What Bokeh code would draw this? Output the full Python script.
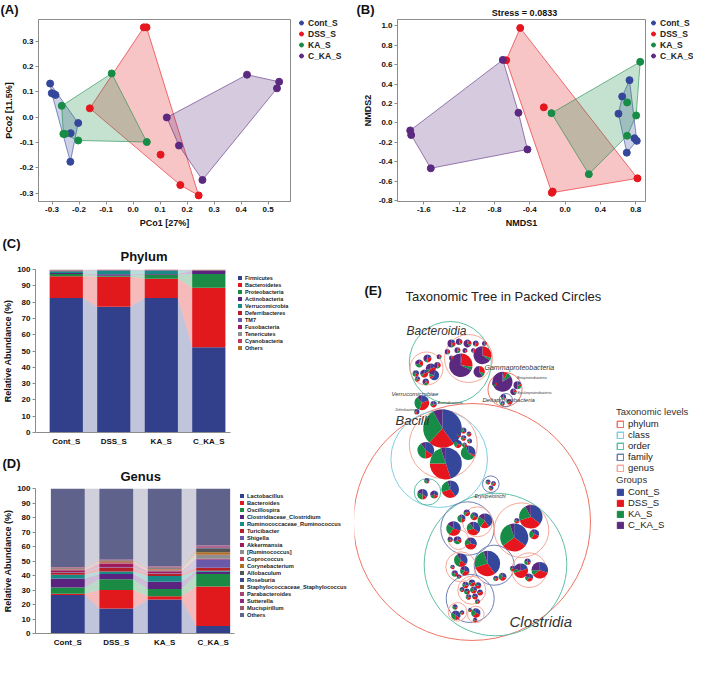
import numpy as np
from bokeh.plotting import figure
from bokeh.models import (Range1d, FixedTicker, NumeralTickFormatter, Label, Legend,
                          LegendItem, ColumnDataSource)
from bokeh.layouts import row, column
from bokeh.embed import file_html
from bokeh.resources import INLINE

FONT = "Liberation Sans"

groups = ["Cont_S", "DSS_S", "KA_S", "C_KA_S"]
group_colors = ["#34479B", "#E5161D", "#178C47", "#5B2A80"]

# ---------------- Panel A : PCoA ----------------
a_cont_x = [-0.307, -0.301, -0.292, -0.287, -0.203, -0.231, -0.232]
a_cont_y = [0.133, 0.095, 0.091, 0.088, -0.023, -0.063, -0.176]
a_dss_x = [0.040, 0.050, -0.160, 0.102, 0.175, 0.243]
a_dss_y = [0.355, 0.355, 0.035, -0.148, -0.268, -0.309]
a_ka_x = [-0.264, -0.258, -0.252, -0.203, -0.079, 0.051]
a_ka_y = [0.045, -0.066, -0.066, -0.092, 0.173, -0.098]
a_cka_x = [0.125, 0.170, 0.257, 0.422, 0.541, 0.533]
a_cka_y = [-0.001, -0.112, -0.248, 0.168, 0.140, 0.114]
a_xticks = [-0.3, -0.2, -0.1, 0.0, 0.1, 0.2, 0.3, 0.4, 0.5]
a_yticks = [-0.3, -0.2, -0.1, 0.0, 0.1, 0.2, 0.3]

# ---------------- Panel B : NMDS ----------------
b_cont_x = [0.730, 0.647, 0.605, 0.786, 0.812, 0.699]
b_cont_y = [0.440, 0.272, 0.095, -0.157, -0.184, -0.305]
b_dss_x = [-0.508, -0.667, -0.241, -0.150, -0.140, 0.820]
b_dss_y = [0.976, 0.644, 0.161, -0.717, -0.705, -0.569]
b_ka_x = [0.851, -0.154, 0.269, 0.805, 0.703, 0.703]
b_ka_y = [0.628, 0.101, -0.526, 0.077, 0.211, -0.131]
b_cka_x = [-0.705, -0.528, -0.426, -1.521, -1.754, -1.743]
b_cka_y = [0.648, 0.105, -0.272, -0.466, -0.077, -0.124]
b_xticks = [-1.6, -1.2, -0.8, -0.4, 0.0, 0.4, 0.8]
b_yticks = [-0.8, -0.6, -0.4, -0.2, 0.0, 0.2, 0.4, 0.6, 0.8, 1.0]

# ---------------- Panel C : Phylum ----------------
phylum_names = ["Firmicutes", "Bacteroidetes", "Proteobacteria", "Actinobacteria",
                "Verrucomicrobia", "Deferribacteres", "TM7", "Fusobacteria",
                "Tenericutes", "Cyanobacteria", "Others"]
phylum_colors = ["#323F8A", "#E2191C", "#1A8A44", "#5A237F", "#1A8A87", "#B51F28",
                 "#6A58A8", "#9E1A5A", "#8F8F8F", "#C23B55", "#B07020"]
phylum_firmicutes = [82.5, 77.1, 82.5, 52.3]
phylum_bacteroidetes = [13.3, 18.5, 11.8, 36.5]
phylum_proteobacteria = [1.5, 0.5, 2.5, 8.4]
phylum_actinobacteria = [0.6, 1.0, 0.5, 2.1]
phylum_verrucomicrobia = [1.0, 2.3, 2.1, 0.1]
phylum_deferribacteres = [0.3, 0.2, 0.2, 0.1]
phylum_tm7 = [0.2, 0.1, 0.1, 0.1]
phylum_fusobacteria = [0.2, 0.1, 0.1, 0.1]
phylum_tenericutes = [0.2, 0.1, 0.1, 0.1]
phylum_cyanobacteria = [0.1, 0.05, 0.05, 0.05]
phylum_others = [0.1, 0.05, 0.05, 0.15]

# ---------------- Panel D : Genus ----------------
genus_names = ["Lactobacillus", "Bacteroides", "Oscillospira", "Clostridiaceae_Clostridium",
               "Ruminococcaceae_Ruminococcus", "Turicibacter", "Shigella", "Akkermansia",
               "[Ruminococcus]", "Coprococcus", "Corynebacterium", "Allobaculum", "Roseburia",
               "Staphylococcaceae_Staphylococcus", "Parabacteroides", "Sutterella",
               "Mucispirillum", "Others"]
genus_colors = ["#323F8A", "#E2191C", "#1A8A44", "#5A237F", "#1A8A87", "#B51F28", "#6A58A8",
                "#9E1A5A", "#8F8F8F", "#C23B55", "#B07020", "#555555", "#3C4A8E", "#8C5A3A",
                "#A2456E", "#8E2B7E", "#9C5870", "#5F628B"]
genus_lactobacillus = [26.5, 17.3, 23.5, 5.2]
genus_bacteroides = [1.0, 12.7, 2.2, 27.3]
genus_oscillospira = [4.3, 7.5, 5.0, 8.6]
genus_clostridium = [6.2, 3.5, 5.0, 1.5]
genus_ruminococcus = [2.6, 1.8, 4.0, 0.6]
genus_turicibacter = [1.5, 2.5, 1.5, 2.1]
genus_shigella = [0.3, 0.4, 0.3, 5.8]
genus_akkermansia = [1.2, 2.5, 1.5, 0.4]
genus_ruminococcus_b = [0.5, 0.3, 0.6, 2.6]
genus_coprococcus = [0.4, 0.6, 0.5, 0.3]
genus_corynebacterium = [0.3, 0.8, 0.6, 1.7]
genus_allobaculum = [0.2, 0.3, 0.3, 2.6]
genus_roseburia = [0.2, 0.2, 0.3, 0.3]
genus_staphylococcus = [0.1, 0.1, 0.2, 0.2]
genus_parabacteroides = [0.2, 0.2, 0.3, 0.8]
genus_sutterella = [0.2, 0.3, 0.3, 0.5]
genus_mucispirillum = [0.1, 0.1, 0.2, 0.3]
genus_others = [54.2, 48.9, 53.7, 39.2]

# ---------------- Panel E : packed circles ----------------
level_names = ["phylum", "class", "order", "family", "genus"]
level_colors = ["#EF7565", "#7ED0E2", "#5DBFA5", "#6F7FB5", "#F4A898"]
# outline circles: (x, y, r, level index)
taxon_circles = [
    (474.5, 528.5, 118.5, 0), (441.7, 465.7, 48.3, 1), (445.8, 451.0, 34.0, 4),
    (430.0, 498.3, 13.3, 2), (498.0, 571.0, 71.3, 2), (470.0, 535.0, 26.7, 3),
    (480.0, 528.3, 15.0, 4), (461.0, 546.0, 10.0, 4), (524.0, 536.7, 27.3, 4),
    (496.7, 571.7, 20.0, 3), (463.3, 573.3, 15.0, 4), (531.7, 576.7, 17.3, 4),
    (472.7, 605.0, 24.0, 3), (474.3, 596.7, 14.0, 4), (460.0, 618.3, 9.3, 4),
    (478.3, 621.0, 8.3, 4), (493.3, 490.7, 8.3, 3), (452.8, 369.0, 41.0, 2),
    (429.0, 375.0, 16.5, 4), (471.0, 365.0, 24.0, 4), (507.5, 396.0, 17.0, 0),
    (508.3, 406.7, 6.7, 3),
]
# pies: (x, y, r, Cont_S, DSS_S, KA_S, C_KA_S)
bacilli_pies = [
    (445.0, 435.0, 19.3, 0.40, 0.22, 0.30, 0.08), (448.3, 470.0, 16.0, 0.45, 0.30, 0.20, 0.05),
    (428.3, 456.7, 8.3, 0.35, 0.15, 0.40, 0.10), (470.7, 459.3, 7.3, 0.30, 0.05, 0.60, 0.05),
    (460.5, 450.5, 4.0, 0.30, 0.30, 0.30, 0.10), (466.0, 437.0, 3.0, 0.40, 0.20, 0.30, 0.10),
    (471.5, 440.5, 2.5, 0.20, 0.40, 0.20, 0.20), (466.0, 444.5, 2.8, 0.30, 0.30, 0.20, 0.20),
    (472.0, 447.5, 2.5, 0.50, 0.20, 0.20, 0.10), (467.0, 451.5, 2.5, 0.20, 0.30, 0.40, 0.10),
    (461.5, 441.5, 2.2, 0.30, 0.30, 0.30, 0.10), (452.7, 495.7, 8.7, 0.40, 0.30, 0.25, 0.05),
    (429.3, 487.3, 2.7, 0.30, 0.20, 0.30, 0.20), (425.0, 500.7, 5.3, 0.35, 0.15, 0.30, 0.20),
    (436.7, 501.0, 4.0, 0.30, 0.20, 0.20, 0.30), (490.5, 488.5, 2.5, 0.30, 0.30, 0.20, 0.20),
    (496.0, 490.0, 2.5, 0.20, 0.40, 0.20, 0.20), (493.5, 494.5, 2.5, 0.40, 0.20, 0.20, 0.20),
]
clostridia_pies = [
    (456.0, 535.0, 7.3, 0.30, 0.30, 0.25, 0.15), (476.0, 535.0, 6.7, 0.35, 0.35, 0.20, 0.10),
    (487.3, 527.3, 7.3, 0.40, 0.20, 0.25, 0.15), (464.0, 525.0, 4.0, 0.30, 0.20, 0.40, 0.10),
    (469.3, 519.3, 3.3, 0.20, 0.40, 0.20, 0.20), (476.7, 522.7, 4.0, 0.30, 0.30, 0.30, 0.10),
    (473.3, 550.0, 6.0, 0.30, 0.40, 0.20, 0.10), (460.0, 546.7, 4.0, 0.20, 0.20, 0.30, 0.30),
    (452.7, 546.0, 2.7, 0.30, 0.20, 0.20, 0.30), (516.7, 544.0, 14.0, 0.35, 0.30, 0.30, 0.05),
    (533.3, 523.3, 11.7, 0.35, 0.35, 0.22, 0.08), (536.7, 540.7, 5.0, 0.30, 0.30, 0.30, 0.10),
    (519.3, 527.3, 2.7, 0.30, 0.30, 0.20, 0.20), (490.0, 570.0, 12.7, 0.40, 0.30, 0.25, 0.05),
    (505.0, 583.3, 4.0, 0.30, 0.30, 0.30, 0.10), (498.3, 585.0, 2.7, 0.20, 0.30, 0.30, 0.20),
    (463.3, 566.7, 6.7, 0.35, 0.20, 0.35, 0.10), (467.3, 577.3, 4.7, 0.30, 0.30, 0.20, 0.20),
    (457.3, 580.0, 3.3, 0.20, 0.30, 0.30, 0.20), (455.0, 573.5, 2.3, 0.30, 0.30, 0.20, 0.20),
    (461.5, 583.0, 2.3, 0.20, 0.20, 0.30, 0.30), (542.3, 576.7, 8.3, 0.30, 0.35, 0.10, 0.25),
    (523.3, 577.3, 7.3, 0.20, 0.50, 0.10, 0.20), (531.7, 584.0, 4.0, 0.30, 0.30, 0.20, 0.20),
    (530.0, 568.3, 3.3, 0.30, 0.20, 0.30, 0.20), (515.0, 575.0, 2.7, 0.30, 0.30, 0.20, 0.20),
    (468.0, 591.5, 3.3, 0.30, 0.30, 0.20, 0.20), (474.5, 589.5, 3.5, 0.20, 0.40, 0.20, 0.20),
    (480.5, 592.0, 3.3, 0.30, 0.40, 0.20, 0.10), (469.5, 598.0, 3.0, 0.20, 0.30, 0.30, 0.20),
    (476.0, 596.5, 3.5, 0.30, 0.30, 0.30, 0.10), (482.5, 599.0, 3.0, 0.20, 0.50, 0.10, 0.20),
    (471.0, 603.5, 2.8, 0.30, 0.30, 0.20, 0.20), (477.5, 603.0, 3.0, 0.30, 0.40, 0.10, 0.20),
    (464.5, 596.0, 2.5, 0.40, 0.20, 0.20, 0.20), (480.0, 608.0, 2.5, 0.20, 0.30, 0.30, 0.20),
    (458.3, 621.7, 4.7, 0.35, 0.15, 0.35, 0.15), (457.5, 613.5, 2.7, 0.30, 0.20, 0.30, 0.20),
    (464.5, 619.0, 2.3, 0.30, 0.30, 0.20, 0.20), (478.3, 619.5, 4.7, 0.30, 0.30, 0.30, 0.10),
    (477.5, 626.5, 2.3, 0.30, 0.30, 0.20, 0.20), (472.5, 616.5, 2.0, 0.20, 0.30, 0.30, 0.20),
]
bacteroidia_pies = [
    (463.3, 371.7, 11.7, 0.02, 0.25, 0.05, 0.68), (485.0, 361.7, 9.0, 0.00, 0.30, 0.05, 0.65),
    (481.7, 378.3, 5.7, 0.00, 0.30, 0.10, 0.60), (454.0, 350.0, 4.0, 0.20, 0.20, 0.10, 0.50),
    (461.7, 348.3, 3.3, 0.10, 0.30, 0.10, 0.50), (470.0, 350.0, 4.0, 0.10, 0.20, 0.10, 0.60),
    (478.3, 350.0, 3.0, 0.20, 0.30, 0.10, 0.40), (450.0, 358.3, 2.7, 0.10, 0.30, 0.10, 0.50),
    (460.0, 356.7, 3.0, 0.10, 0.20, 0.20, 0.50), (467.5, 357.0, 2.5, 0.20, 0.20, 0.10, 0.50),
    (454.0, 364.5, 2.5, 0.10, 0.30, 0.10, 0.50), (476.0, 357.0, 2.5, 0.10, 0.40, 0.10, 0.40),
    (487.0, 350.0, 2.5, 0.10, 0.30, 0.10, 0.50), (430.0, 365.0, 4.0, 0.20, 0.30, 0.10, 0.40),
    (421.7, 370.0, 4.0, 0.10, 0.30, 0.30, 0.30), (433.3, 375.0, 5.0, 0.20, 0.40, 0.10, 0.30),
    (440.0, 371.7, 3.3, 0.10, 0.30, 0.10, 0.50), (418.3, 380.0, 3.3, 0.30, 0.20, 0.30, 0.20),
    (426.7, 380.0, 4.0, 0.20, 0.40, 0.10, 0.30), (436.7, 381.7, 5.0, 0.60, 0.10, 0.10, 0.20),
    (428.3, 388.3, 3.3, 0.20, 0.20, 0.20, 0.40), (420.0, 385.5, 2.7, 0.30, 0.30, 0.20, 0.20),
    (441.7, 363.3, 2.5, 0.10, 0.20, 0.20, 0.50), (446.7, 382.7, 2.7, 0.00, 0.00, 1.00, 0.00),
]
proteo_pies = [
    (505.0, 388.3, 10.0, 0.03, 0.05, 0.08, 0.84), (520.0, 391.7, 4.0, 0.20, 0.10, 0.20, 0.50),
    (516.0, 398.3, 3.3, 0.10, 0.20, 0.10, 0.60), (497.3, 390.0, 2.7, 0.20, 0.20, 0.20, 0.40),
    (506.0, 403.3, 2.7, 0.40, 0.10, 0.20, 0.30), (511.7, 408.3, 2.7, 0.20, 0.40, 0.20, 0.20),
    (505.0, 410.0, 2.3, 0.30, 0.20, 0.30, 0.20),
]
minor_pies = [
    (424.3, 409.3, 7.3, 0.20, 0.35, 0.35, 0.10), (436.0, 410.7, 3.3, 0.30, 0.30, 0.20, 0.20),
    (419.3, 418.3, 2.7, 0.50, 0.20, 0.10, 0.20),
]
# taxon labels: (text, x, y, font px)
taxon_labels = [
    ("Bacteroidia", 409, 337, 12), ("Gammaproteobacteria", 487, 373.5, 7),
    ("Betaproteobacteria", 519.5, 384.3, 3.5), ("Epsilonproteobacteria", 520, 399, 3.5),
    ("Deltaproteobacteria", 485, 406, 6), ("Verrucomicrobiae", 394, 400, 6),
    ("Actinobacteria", 440, 409.3, 4), ("Deferribacteres", 398, 415.7, 3),
    ("Bacilli", 398, 427, 13), ("Erysipelotrichi", 477, 502.3, 5),
    ("Clostridia", 512, 628.3, 15),
]


# ---------------- helpers ----------------
def make_fig(w, h, xr, yr, bl, br, bt, bb, axes=True):
    kw = dict(width=w, height=h, x_range=xr, y_range=yr, output_backend="svg",
              toolbar_location=None, min_border_left=bl, min_border_right=br,
              min_border_top=bt, min_border_bottom=bb)
    if not axes:
        kw.update(x_axis_location=None, y_axis_location=None)
    p = figure(**kw)
    try:
        p.frame_align = False   # keep each figure's own borders inside layouts
    except Exception:
        pass
    p.xgrid.visible = False
    p.ygrid.visible = False
    p.outline_line_color = None
    p.background_fill_color = "white"
    p.border_fill_color = "white"
    return p


def blank(w, h):
    # pixel-sized data ranges so that labels can be placed in data units
    return make_fig(w, h, Range1d(0, w), Range1d(0, h), 0, 0, 0, 0, axes=False)


def dlabel(p, x, y, text, size, style="bold", align="left", color="#111111"):
    p.add_layout(Label(x=x, y=y, text=text, text_font=FONT, text_font_size=size,
                       text_font_style=style, text_align=align, text_baseline="middle",
                       text_color=color))


def style_axis(ax, tick_out=3):
    ax.axis_line_color = "#8C8C8C"
    ax.major_tick_line_color = "#8C8C8C"
    ax.minor_tick_line_color = None
    ax.major_tick_out = tick_out
    ax.major_tick_in = 0
    ax.major_label_text_font = FONT
    ax.major_label_text_font_style = "bold"
    ax.major_label_text_font_size = "8px"
    ax.major_label_text_color = "#111111"
    ax.major_label_standoff = 2
    ax.axis_label_text_font = FONT
    ax.axis_label_text_font_style = "bold"
    ax.axis_label_text_font_size = "9px"
    ax.axis_label_text_color = "#111111"
    ax.axis_label_standoff = 3


def hull(xs, ys):
    pts = sorted(set(zip(xs, ys)))
    if len(pts) < 3:
        return pts

    def cross(o, a, b):
        return (a[0] - o[0]) * (b[1] - o[1]) - (a[1] - o[1]) * (b[0] - o[0])
    lower, upper = [], []
    for q in pts:
        while len(lower) >= 2 and cross(lower[-2], lower[-1], q) <= 0:
            lower.pop()
        lower.append(q)
    for q in reversed(pts):
        while len(upper) >= 2 and cross(upper[-2], upper[-1], q) <= 0:
            upper.pop()
        upper.append(q)
    return lower[:-1] + upper[:-1]


def ordination(p, xs_list, ys_list):
    for xs, ys, col in zip(xs_list, ys_list, group_colors):
        h = hull(xs, ys)
        p.patch([q[0] for q in h], [q[1] for q in h], fill_color=col, fill_alpha=0.25,
                line_color=col, line_alpha=0.75, line_width=0.8)
    for xs, ys, col in zip(xs_list, ys_list, group_colors):
        p.scatter(xs, ys, size=7, fill_color=col, line_color=col)


def dot_legend(w, h, lx, ly):
    q = blank(w, h)
    items = []
    for g, col in zip(groups, group_colors):
        r = q.scatter([-10], [-10], size=7, fill_color=col, line_color=col)
        items.append(LegendItem(label=g, renderers=[r]))
    q.add_layout(Legend(items=items, location=(lx, ly), glyph_width=10, glyph_height=11,
                        label_height=11, spacing=0, padding=0, margin=0, label_standoff=2,
                        label_text_font=FONT, label_text_font_style="bold",
                        label_text_font_size="8.5px", label_text_color="#222222",
                        border_line_color=None, background_fill_alpha=0))
    return q


def box_legend(w, h, names, colors, lx, ly, fs):
    q = blank(w, h)
    items = []
    for nm, col in zip(names, colors):
        r = q.quad(left=[-10], right=[-9], bottom=[-10], top=[-9], fill_color=col,
                   line_color=None)
        items.append(LegendItem(label=nm, renderers=[r]))
    q.add_layout(Legend(items=items, location=(lx, ly), glyph_width=5, glyph_height=5,
                        label_height=7, spacing=0, padding=0, margin=0, label_standoff=3,
                        label_text_font=FONT, label_text_font_style="bold",
                        label_text_font_size=fs, label_text_color="#222222",
                        border_line_color=None, background_fill_alpha=0))
    return q


def stacked(p, series, colors, width):
    xs = np.arange(4, dtype=float)
    bottom = np.zeros(4)
    for vals, col in zip(series, colors):
        top = bottom + np.array(vals, dtype=float)
        fx, fy = [], []
        for i in range(3):
            x0 = xs[i] + width / 2
            x1 = xs[i + 1] - width / 2
            fx.append([x0, x1, x1, x0])
            fy.append([bottom[i], bottom[i + 1], top[i + 1], top[i]])
        p.patches(fx, fy, fill_color=col, fill_alpha=0.3, line_color=None)
        p.quad(left=xs - width / 2, right=xs + width / 2, bottom=bottom, top=top,
               fill_color=col, line_color=None)
        bottom = top
    p.yaxis.ticker = FixedTicker(ticks=list(range(0, 101, 10)))
    p.xaxis.ticker = FixedTicker(ticks=[0, 1, 2, 3])
    p.xaxis.major_label_overrides = {i: g for i, g in enumerate(groups)}
    style_axis(p.yaxis[0])
    style_axis(p.xaxis[0], tick_out=0)
    p.xaxis.major_label_standoff = 4
    p.yaxis.axis_label = "Relative Abundance (%)"
    p.yaxis.axis_label_standoff = 1


# ---------------- Panel A ----------------
stripA = blank(292, 18)
dlabel(stripA, 0, 9, "(A)", "13px")
pA = make_fig(292, 218, Range1d(-0.35, 0.583), Range1d(-0.333, 0.386), 32, 2, 1, 35)
pA.outline_line_color = "#8C8C8C"
ordination(pA, [a_cont_x, a_dss_x, a_ka_x, a_cka_x], [a_cont_y, a_dss_y, a_ka_y, a_cka_y])
pA.xaxis.ticker = FixedTicker(ticks=a_xticks)
pA.yaxis.ticker = FixedTicker(ticks=a_yticks)
pA.xaxis.formatter = NumeralTickFormatter(format="0.0")
pA.yaxis.formatter = NumeralTickFormatter(format="0.0")
style_axis(pA.xaxis[0])
style_axis(pA.yaxis[0])
pA.xaxis.axis_label = "PCo1 [27%]"
pA.yaxis.axis_label = "PCo2 [11.5%]"
legA = dot_legend(62, 236, 4, 175)

# ---------------- Panel B ----------------
stripB = blank(293, 18)
dlabel(stripB, 2, 9, "(B)", "13px")
dlabel(stripB, 170, 6, "Stress = 0.0833", "9px", align="center")
pB = make_fig(293, 218, Range1d(-1.898, 0.911), Range1d(-0.807, 1.063), 43, 2, 1, 35)
pB.outline_line_color = "#8C8C8C"
ordination(pB, [b_cont_x, b_dss_x, b_ka_x, b_cka_x], [b_cont_y, b_dss_y, b_ka_y, b_cka_y])
pB.xaxis.ticker = FixedTicker(ticks=b_xticks)
pB.yaxis.ticker = FixedTicker(ticks=b_yticks)
pB.xaxis.formatter = NumeralTickFormatter(format="0.0")
pB.yaxis.formatter = NumeralTickFormatter(format="0.0")
style_axis(pB.xaxis[0])
style_axis(pB.yaxis[0])
pB.xaxis.axis_label = "NMDS1"
pB.yaxis.axis_label = "NMDS2"
legB = dot_legend(46, 236, 1, 175)

# ---------------- Panel C ----------------
stripC = blank(232, 28)
dlabel(stripC, 2, 21, "(C)", "13px")
dlabel(stripC, 120, 8, "Phylum", "13px")
pC = make_fig(232, 184, Range1d(-0.648, 3.457), Range1d(0, 100), 28, 2, 5, 14)
stacked(pC, [phylum_firmicutes, phylum_bacteroidetes, phylum_proteobacteria,
             phylum_actinobacteria, phylum_verrucomicrobia, phylum_deferribacteres,
             phylum_tm7, phylum_fusobacteria, phylum_tenericutes, phylum_cyanobacteria,
             phylum_others], phylum_colors, 0.70)
legC = box_legend(122, 212, phylum_names, phylum_colors, 5, 97, "5.5px")

# ---------------- Panel D ----------------
stripD = blank(236, 35)
dlabel(stripD, 2, 20, "(D)", "13px")
dlabel(stripD, 120, 7, "Genus", "13px")
pD = make_fig(236, 166, Range1d(-0.667, 3.44), Range1d(0, 100), 28, 2, 5, 13)
stacked(pD, [genus_lactobacillus, genus_bacteroides, genus_oscillospira, genus_clostridium,
             genus_ruminococcus, genus_turicibacter, genus_shigella, genus_akkermansia,
             genus_ruminococcus_b, genus_coprococcus, genus_corynebacterium,
             genus_allobaculum, genus_roseburia, genus_staphylococcus,
             genus_parabacteroides, genus_sutterella, genus_mucispirillum, genus_others],
        genus_colors, 0.70)
legD = box_legend(118, 201, genus_names, genus_colors, 3, 31, "5.7px")

# ---------------- Panel E ----------------
pE = make_fig(339, 413, Range1d(357, 696), Range1d(656, 243), 0, 0, 0, 0, axes=False)
pE.circle(x=[c[0] for c in taxon_circles], y=[c[1] for c in taxon_circles],
          radius=[c[2] for c in taxon_circles], fill_color=None,
          line_color=[level_colors[c[3]] for c in taxon_circles], line_width=1.0)

all_pies = bacilli_pies + clostridia_pies + bacteroidia_pies + proteo_pies + minor_pies
wx, wy, wr, ws, we, wc = [], [], [], [], [], []
for pie in all_pies:
    x, y, r = pie[:3]
    fr = np.array(pie[3:], dtype=float)
    fr = fr / fr.sum()
    cum = 0.0
    for f, col in zip(fr, group_colors):
        if f <= 0:
            continue
        wx.append(x); wy.append(y); wr.append(r)
        ws.append(np.pi / 2 - cum * 2 * np.pi)
        we.append(np.pi / 2 - (cum + f) * 2 * np.pi)
        wc.append(col)
        cum += f
pE.wedge(x="x", y="y", radius="r", start_angle="s", end_angle="e", direction="clock",
         fill_color="c", line_color=None,
         source=ColumnDataSource(dict(x=wx, y=wy, r=wr, s=ws, e=we, c=wc)))

for txt, x, y, fs in taxon_labels:
    pE.add_layout(Label(x=x, y=y, text=txt, text_font=FONT, text_font_size=f"{fs}px",
                        text_font_style="italic", text_baseline="middle",
                        text_color="#333333"))
dlabel(pE, 367, 297, "(E)", "13px")
dlabel(pE, 408, 303, "Taxonomic Tree in Packed Circles", "13px", style="normal",
       color="#222222")

off = dict(left=[0], right=[1], top=[0], bottom=[1])
lev_items = []
for nm, col in zip(level_names, level_colors):
    r = pE.quad(source=ColumnDataSource(dict(off)), left="left", right="right", top="top",
                bottom="bottom", fill_color="white", line_color=col, line_width=1.5)
    lev_items.append(LegendItem(label=nm, renderers=[r]))
grp_items = []
for nm, col in zip(groups, group_colors):
    r = pE.quad(source=ColumnDataSource(dict(off)), left="left", right="right", top="top",
                bottom="bottom", fill_color=col, line_color=col)
    grp_items.append(LegendItem(label=nm, renderers=[r]))
for items, title, ly in [(lev_items, "Taxonomic levels", 176), (grp_items, "Groups", 119)]:
    lg = Legend(items=items, title=title, location=(262, ly), glyph_width=8, glyph_height=8,
                label_height=10, spacing=0, padding=0, margin=0, label_standoff=4,
                title_standoff=1, label_text_font=FONT, label_text_font_size="9.5px",
                label_text_color="#222222", title_text_font=FONT,
                title_text_font_size="9.5px", title_text_font_style="normal",
                title_text_color="#333333", border_line_color=None, background_fill_alpha=0)
    pE.add_layout(lg)

row1 = row(column(stripA, pA), legA, column(stripB, pB), legB)
left2 = column(row(column(stripC, pC), legC), row(column(stripD, pD), legD))
layout = column(row1, row(left2, pE))
open("out.html", "w").write(file_html(layout, INLINE))
